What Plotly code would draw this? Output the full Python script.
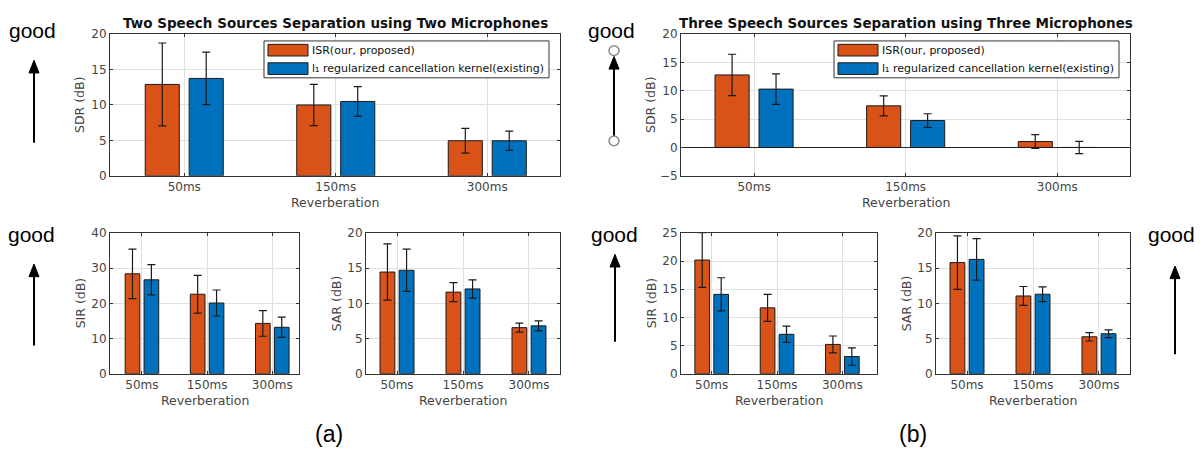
import plotly.graph_objects as go

# ---------------- data ----------------
categories = ["50ms", "150ms", "300ms"]
cat_pos = [1, 2, 3]

# (a) two sources / two microphones
sdr2_isr = [12.9, 10.0, 4.95]
sdr2_isr_err = [5.85, 2.92, 1.75]
sdr2_l1 = [13.75, 10.5, 4.95]
sdr2_l1_err = [3.7, 2.1, 1.35]

sir2_isr = [28.4, 22.6, 14.3]
sir2_isr_err = [7.05, 5.35, 3.65]
sir2_l1 = [26.7, 20.1, 13.2]
sir2_l1_err = [4.3, 3.7, 2.9]

sar2_isr = [14.45, 11.6, 6.55]
sar2_isr_err = [4.0, 1.35, 0.65]
sar2_l1 = [14.7, 12.05, 6.8]
sar2_l1_err = [3.0, 1.3, 0.72]

# (b) three sources / three microphones
sdr3_isr = [12.8, 7.35, 1.05]
sdr3_isr_err = [3.65, 1.77, 1.2]
sdr3_l1 = [10.3, 4.75, 0.0]
sdr3_l1_err = [2.7, 1.2, 1.08]

sir3_isr = [20.2, 11.7, 5.2]
sir3_isr_err = [4.85, 2.4, 1.5]
sir3_l1 = [14.1, 7.0, 3.05]
sir3_l1_err = [2.95, 1.45, 1.55]

sar3_isr = [15.8, 11.05, 5.25]
sar3_isr_err = [3.8, 1.35, 0.6]
sar3_l1 = [16.25, 11.3, 5.68]
sar3_l1_err = [2.95, 1.05, 0.55]

legend_names = ["ISR(our, proposed)",
                "l\u2081 regularized cancellation kernel(existing)"]
titles = ["Two Speech Sources Separation using Two Microphones",
          "Three Speech Sources Separation using Three Microphones"]

# ---------------- style / layout ----------------
W, H = 1203, 468
ORANGE = "#D95319"
BLUE = "#0072BD"
AXCOL = "#333333"
TXTCOL = "#444444"
GRID = "#e0e0e0"
FONT = "DejaVu Sans"
ARIAL = "Liberation Sans, Arial"


def px(x):
    return x / W


def py(y):
    return 1 - y / H


# (isr, isr_err, l1, l1_err, ytitle, (left, right, top, bottom) px, xrange, yrange, dtick, title)
panels = [
    (sdr2_isr, sdr2_isr_err, sdr2_l1, sdr2_l1_err, "SDR (dB)", (110, 560, 28, 174), (0.51, 3.48), (0, 20), 5, titles[0]),
    (sdr3_isr, sdr3_isr_err, sdr3_l1, sdr3_l1_err, "SDR (dB)", (681, 1130, 28, 174), (0.518, 3.48), (-5, 20), 5, titles[1]),
    (sir2_isr, sir2_isr_err, sir2_l1, sir2_l1_err, "SIR (dB)", (110, 299, 233, 378), (0.51, 3.41), (0, 40), 10, None),
    (sar2_isr, sar2_isr_err, sar2_l1, sar2_l1_err, "SAR (dB)", (366, 560, 233, 378), (0.53, 3.47), (0, 20), 5, None),
    (sir3_isr, sir3_isr_err, sir3_l1, sir3_l1_err, "SIR (dB)", (681, 877, 233, 378), (0.53, 3.53), (0, 25), 5, None),
    (sar3_isr, sar3_isr_err, sar3_l1, sar3_l1_err, "SAR (dB)", (936, 1130, 233, 378), (0.53, 3.47), (0, 20), 5, None),
]

BAR_W = 0.225
HALF_SEP = 0.145

fig = go.Figure()
annotations = []
shapes = []
layout = {}

for i, (isr, isr_e, l1, l1_e, ytitle, box, xr, yr, dt, title) in enumerate(panels):
    sid = "" if i == 0 else str(i + 1)
    xa, ya = "x" + sid, "y" + sid
    L, R, T, B = box
    for vals, errs, col, off, nm in [
        (isr, isr_e, ORANGE, -HALF_SEP - BAR_W / 2, legend_names[0]),
        (l1, l1_e, BLUE, HALF_SEP - BAR_W / 2, legend_names[1]),
    ]:
        fig.add_trace(go.Bar(
            x=cat_pos, y=vals, width=BAR_W, offset=off,
            marker=dict(color=col, line=dict(color="#1a1a1a", width=1)),
            error_y=dict(type="data", array=errs, color="#1a1a1a", thickness=1.2, width=4),
            xaxis=xa, yaxis=ya, name=nm, showlegend=False,
        ))
    layout["xaxis" + sid] = dict(
        domain=[px(L), px(R)], range=list(xr), anchor=ya,
        tickmode="array", tickvals=cat_pos, ticktext=categories,
        showline=True, linecolor=AXCOL, linewidth=1, mirror="ticks",
        ticks="inside", ticklen=3, tickcolor=AXCOL,
        showgrid=True, gridcolor=GRID, zeroline=False,
        tickfont=dict(family=FONT, size=12, color=TXTCOL),
    )
    layout["yaxis" + sid] = dict(
        domain=[py(B), py(T)], range=list(yr), anchor=xa,
        tickmode="linear", tick0=yr[0], dtick=dt,
        showline=True, linecolor=AXCOL, linewidth=1, mirror="ticks",
        ticks="inside", ticklen=3, tickcolor=AXCOL,
        showgrid=True, gridcolor=GRID,
        zeroline=(yr[0] < 0), zerolinecolor="#222222", zerolinewidth=1,
        tickfont=dict(family=FONT, size=12, color=TXTCOL),
    )
    # y axis title
    annotations.append(dict(
        text=ytitle, xref="paper", yref="paper", x=px(L - 30), y=py((T + B) / 2),
        textangle=-90, showarrow=False, xanchor="center", yanchor="middle",
        font=dict(family=FONT, size=12.5, color=TXTCOL)))
    # x axis title
    annotations.append(dict(
        text="Reverberation", xref="paper", yref="paper", x=px((L + R) / 2), y=py(B + 28),
        showarrow=False, xanchor="center", yanchor="middle",
        font=dict(family=FONT, size=12.5, color=TXTCOL)))
    if title:
        annotations.append(dict(
            text="<b>" + title + "</b>", xref="paper", yref="paper", x=px((L + R) / 2), y=py(17),
            showarrow=False, xanchor="center", yanchor="middle",
            font=dict(family=FONT, size=13.5, color="#111111")))
        # manual legend box (top-right corner of the panel)
        lx1 = R - 11
        lx0 = lx1 - 285
        ly0, ly1 = 35, 73
        shapes.append(dict(type="rect", xref="paper", yref="paper",
                           x0=px(lx0), x1=px(lx1), y0=py(ly1), y1=py(ly0),
                           line=dict(color=AXCOL, width=1), fillcolor="white", layer="above"))
        for k, (col, nm) in enumerate([(ORANGE, legend_names[0]), (BLUE, legend_names[1])]):
            cy = 44.5 + 19 * k
            shapes.append(dict(type="rect", xref="paper", yref="paper",
                               x0=px(lx0 + 4), x1=px(lx0 + 44), y0=py(cy + 6), y1=py(cy - 6),
                               line=dict(color="#1a1a1a", width=1), fillcolor=col, layer="above"))
            annotations.append(dict(
                text=nm, xref="paper", yref="paper", x=px(lx0 + 46), y=py(cy),
                showarrow=False, xanchor="left", yanchor="middle",
                font=dict(family=FONT, size=11, color="#111111")))

# "good" labels
good_labels = [(32, 24), (611, 24), (31, 235), (614, 235), (1171, 235)]
for gx, gy in good_labels:
    annotations.append(dict(text="good", xref="paper", yref="paper", x=px(gx), y=py(gy),
                            showarrow=False, xanchor="center", yanchor="middle",
                            font=dict(family=ARIAL, size=21, color="black")))

# upward arrows drawn as shapes: (x, tip y, tail y) in pixels
arrows = [(34, 55, 140), (614, 51, 138), (34, 265, 349), (615, 255, 345), (1175, 267, 358)]
HEAD_W, HEAD_L = 10, 13
for axx, tip, tail in arrows:
    shapes.append(dict(type="line", xref="paper", yref="paper",
                       x0=px(axx), x1=px(axx), y0=py(tail), y1=py(tip + HEAD_L - 1),
                       line=dict(color="black", width=2), layer="above"))
    path = "M {:.5f},{:.5f} L {:.5f},{:.5f} L {:.5f},{:.5f} Z".format(
        px(axx), py(tip), px(axx - HEAD_W / 2), py(tip + HEAD_L), px(axx + HEAD_W / 2), py(tip + HEAD_L))
    shapes.append(dict(type="path", xref="paper", yref="paper", path=path,
                       fillcolor="black", line=dict(color="black", width=1), layer="above"))

# hollow circles on the top-right arrow
for cy in (45, 138):
    shapes.append(dict(type="circle", xref="paper", yref="paper",
                       x0=px(609), x1=px(619), y0=py(cy + 5), y1=py(cy - 5),
                       line=dict(color="#8a8a8a", width=1.5), fillcolor="white", layer="above"))

for lab, lx in (("(a)", 329), ("(b)", 913)):
    annotations.append(dict(text=lab, xref="paper", yref="paper", x=px(lx), y=py(440),
                            showarrow=False, xanchor="center", yanchor="middle",
                            font=dict(family=ARIAL, size=23, color="black")))

fig.update_layout(
    width=W, height=H, margin=dict(l=0, r=0, t=0, b=0),
    paper_bgcolor="white", plot_bgcolor="white",
    barmode="overlay", showlegend=False,
    annotations=annotations, shapes=shapes,
    **layout,
)

fig.write_html("out.html")
